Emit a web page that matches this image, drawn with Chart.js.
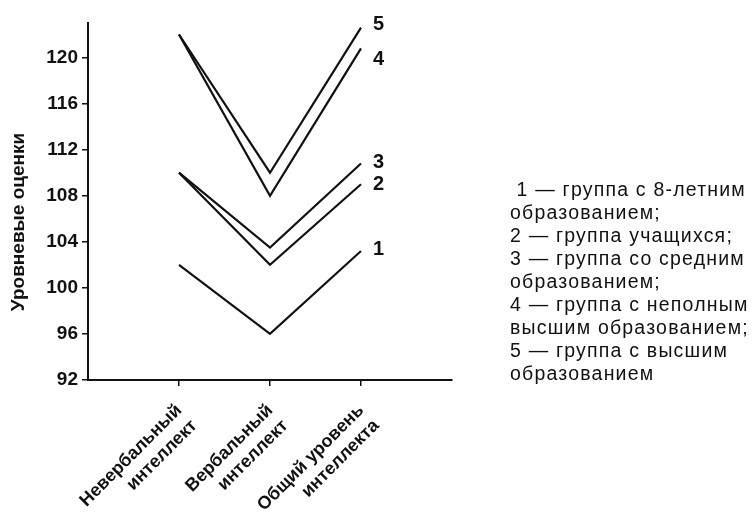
<!DOCTYPE html>
<html>
<head>
<meta charset="utf-8">
<script src="https://cdn.jsdelivr.net/npm/chart.js@4"></script>
<style>
  body { margin: 0; background: #fff; }
  #wrap { position: relative; width: 755px; height: 512px; }
  #legend { position: absolute; left: 510px; top: 178px; font: 19.5px "Liberation Sans", Arial, sans-serif;
            line-height: 23px; color: #111; letter-spacing: 1.2px; white-space: nowrap; }
</style>
</head>
<body>
<div id="wrap">
  <canvas id="myChart" width="755" height="512"></canvas>
  <div id="legend">
    &nbsp;1 — группа с 8-летним<br>образованием;<br>2 — группа учащихся;<br>3 — группа со средним<br>образованием;<br>4 — группа с неполным<br>высшим образованием;<br>5 — группа с высшим<br>образованием
  </div>
</div>
<script>
var categories = [['Невербальный', 'интеллект'], ['Вербальный', 'интеллект'], ['Общий уровень', 'интеллекта']];
var seriesNames = ['1', '2', '3', '4', '5'];
var group1 = [102, 96, 103.2];
var group2 = [110, 102, 109];
var group3 = [110, 103.5, 110.8];
var group4 = [122, 108, 120.8];
var group5 = [122, 110, 122.6];
var yTicks = [92, 96, 100, 104, 108, 112, 116, 120];
var yTitle = 'Уровневые оценки';

var allSeries = [group1, group2, group3, group4, group5];
// small vertical nudges for the end labels so 4/5 and 2/3 don't collide
var labelNudge = [-2, 0, -1, 11, -3];

var endLabels = {
    id: 'endLabels',
    afterDraw: function (chart) {
        var c = chart.ctx;
        c.save();
        c.fillStyle = '#111';
        c.font = 'bold 20px "Liberation Sans", Arial, sans-serif';
        c.textBaseline = 'middle';
        chart.data.datasets.forEach(function (ds, i) {
            var pts = chart.getDatasetMeta(i).data;
            var p = pts[pts.length - 1];
            c.fillText(ds.label, p.x + 12, p.y + labelNudge[i]);
        });
        // y axis title
        c.translate(19, 222);
        c.rotate(-Math.PI / 2);
        c.textAlign = 'center';
        c.font = 'bold 19px "Liberation Sans", Arial, sans-serif';
        c.fillText(yTitle, 0, 0);
        c.restore();
    }
};

var ctx = document.getElementById('myChart').getContext('2d');
var myChart = new Chart(ctx, {
    type: 'line',
    data: {
        datasets: allSeries.map(function (s, i) {
            return {
                label: seriesNames[i],
                data: s.map(function (v, j) { return { x: j + 1, y: v }; }),
                borderColor: '#111',
                borderWidth: 2.2,
                pointRadius: 0,
                tension: 0,
                clip: false
            };
        })
    },
    options: {
        responsive: false,
        animation: false,
        layout: { padding: { left: 0, top: 23, right: 303, bottom: 0 } },
        plugins: { legend: { display: false }, tooltip: { enabled: false } },
        scales: {
            x: {
                type: 'linear',
                min: 0,
                max: 4,
                afterBuildTicks: function (scale) {
                    scale.ticks = [1, 2, 3].map(function (v) { return { value: v }; });
                },
                afterFit: function (scale) { scale.height = 132; },
                ticks: {
                    minRotation: 45,
                    maxRotation: 45,
                    color: '#111',
                    padding: 14,
                    font: { family: '"Liberation Sans", Arial, sans-serif', size: 18, weight: 'bold' },
                    callback: function (v) { return categories[v - 1] || ''; }
                },
                grid: { drawOnChartArea: false, tickLength: 6, color: '#111', lineWidth: 1.5 },
                border: { color: '#111', width: 2 }
            },
            y: {
                min: 92,
                max: 123,
                afterBuildTicks: function (scale) {
                    scale.ticks = yTicks.map(function (v) { return { value: v }; });
                },
                afterFit: function (scale) { scale.width = 88; },
                ticks: {
                    color: '#111',
                    padding: 4,
                    font: { family: '"Liberation Sans", Arial, sans-serif', size: 19, weight: 'bold' }
                },
                grid: { drawOnChartArea: false, tickLength: 6, color: '#111', lineWidth: 1.5 },
                border: { color: '#111', width: 2 }
            }
        }
    },
    plugins: [endLabels]
});
</script>
</body>
</html>
